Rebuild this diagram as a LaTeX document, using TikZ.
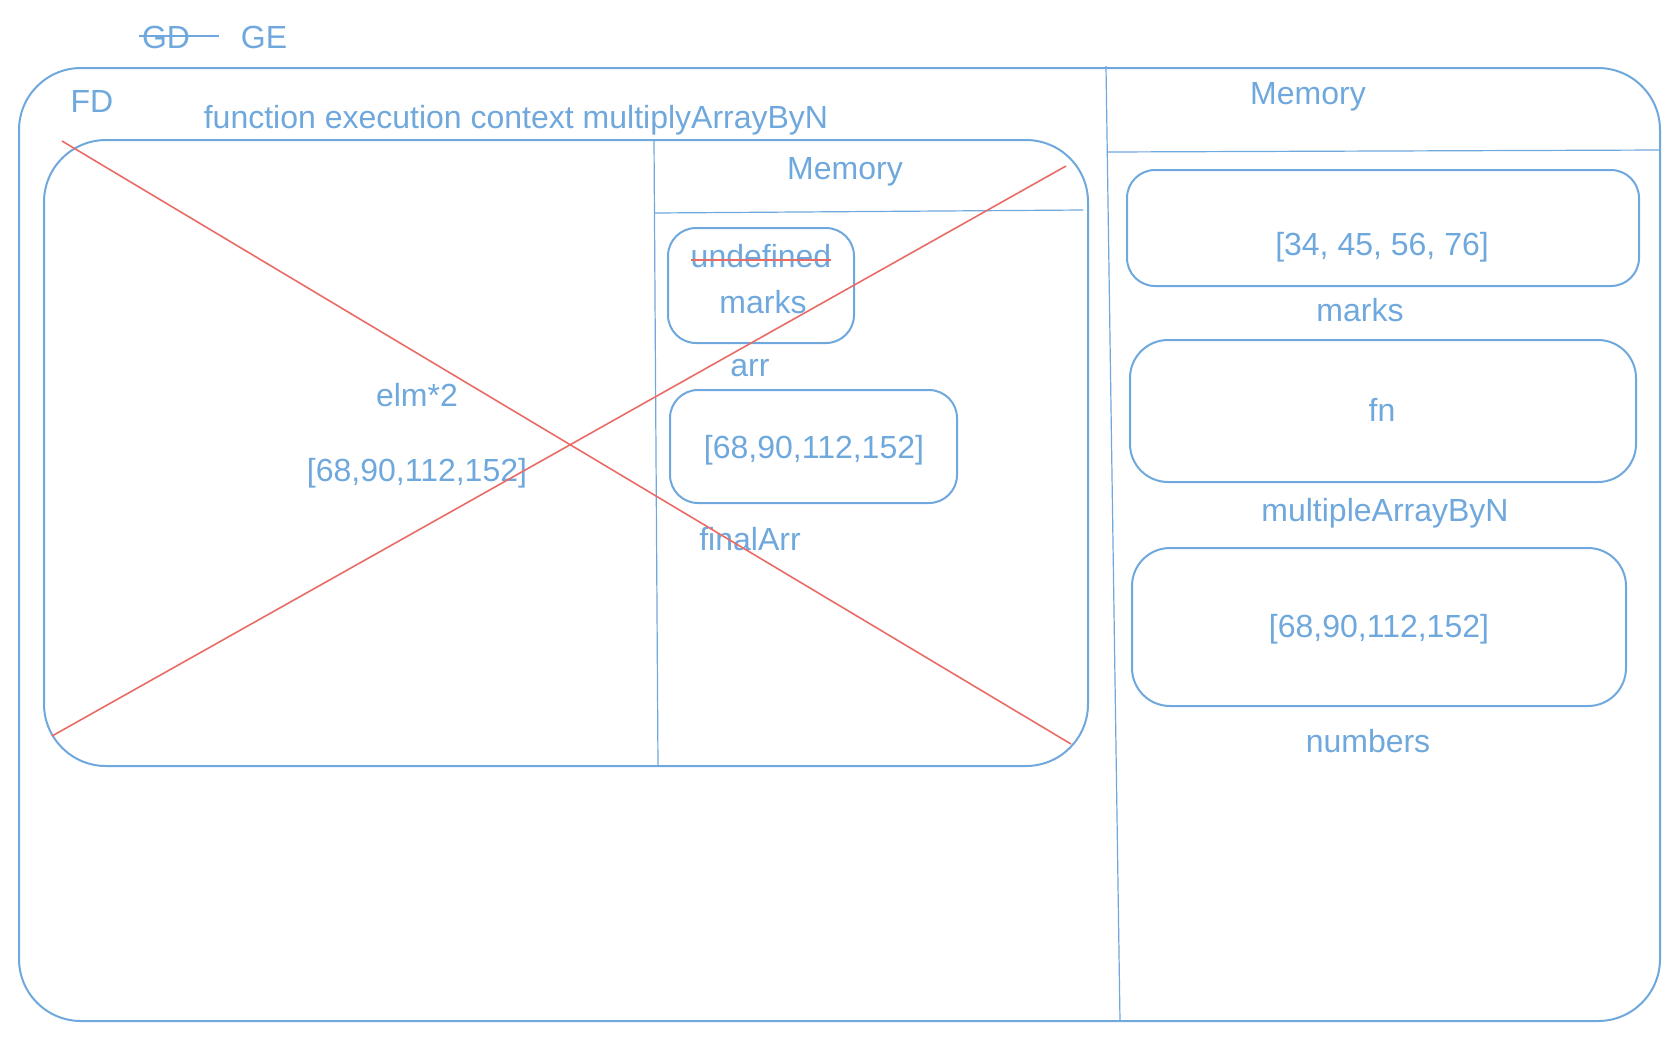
\documentclass[tikz,border=0pt]{standalone}
\usepackage{fontspec}
\setmainfont{Liberation Sans}
\usepackage{xcolor}
\usetikzlibrary{positioning}
\definecolor{memblue}{HTML}{6FA8DC}
\definecolor{crossred}{HTML}{EA6B66}
\tikzset{
  ctx/.style={draw=memblue, line width=1bp, rounded corners=31bp},
  slot/.style={draw=memblue, line width=1bp, rounded corners=14bp},
  bigslot/.style={draw=memblue, line width=1bp, rounded corners=19bp},
  divider/.style={draw=memblue, line width=0.6bp},
  cross/.style={draw=crossred, line width=0.8bp},
  lbl/.style={text=memblue, font=\fontsize{16bp}{19bp}\selectfont, inner sep=0pt, anchor=base}
}

\begin{document}
\begin{tikzpicture}[x=0.5bp, y=-0.5bp]
    \useasboundingbox (0,0) rectangle (1680,1042);

    % call stack labels
    \node[lbl] (gd) at (166,48) {GD};
    \draw[divider, line width=0.8bp] (139,36) -- (219,36);
    \node[lbl] (ge) at (264,48) {GE};

    % global execution context
    \draw[ctx] (19,68) rectangle (1660,1021);
    \node[lbl] (fd) at (92,112) {FD};
    \draw[divider] (1106,66) -- (1120,1021);
    \draw[divider] (1107,152) -- (1660,150);
    \node[lbl] (gmem) at (1308,104) {Memory};

    \draw[slot] (1127,170) rectangle (1639,286);
    \node[lbl] (marksval) at (1382,255) {[34, 45, 56, 76]};
    \node[lbl] (marksname) at (1360,321) {marks};

    \draw[bigslot] (1130,340) rectangle (1636,482);
    \node[lbl] (fnval) at (1382,421) {fn};
    \node[lbl] (fnname) at (1385,521) {multipleArrayByN};

    \draw[bigslot] (1132,548) rectangle (1626,706);
    \node[lbl] (numval) at (1379,637) {[68,90,112,152]};
    \node[lbl] (numname) at (1368,752) {numbers};

    % function execution context
    \node[lbl] (fec) at (516,128) {function execution context multiplyArrayByN};
    \draw[ctx] (44,140) rectangle (1088,766);
    \draw[divider] (654,140) -- (658,766);
    \draw[divider] (655,213) -- (1083,210);
    \node[lbl] (lmem) at (845,179) {Memory};

    \draw[slot] (668,228) rectangle (854,343);
    \node[lbl] (undef) at (761,267) {undefined};
    \draw[cross, line width=1bp] (691,260) -- (831,260);
    \node[lbl] (arrval) at (763,313) {marks};
    \node[lbl] (arrname) at (750,376) {arr};

    \draw[slot] (670,390) rectangle (957,503);
    \node[lbl] (finval) at (814,458) {[68,90,112,152]};
    \node[lbl] (finname) at (750,550) {finalArr};

    \node[lbl] (elm) at (417,406) {elm*2};
    \node[lbl] (res) at (417,481) {[68,90,112,152]};

    % crossed out
    \draw[cross] (62,141) -- (1071,744);
    \draw[cross] (52,736) -- (1066,166);
\end{tikzpicture}
\end{document}
